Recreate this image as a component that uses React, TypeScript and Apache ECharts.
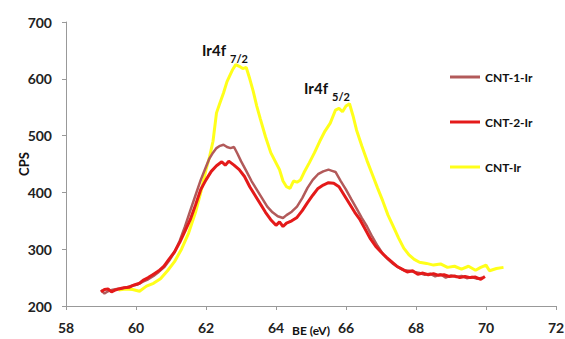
import React, { useEffect, useRef } from "react";
import * as echarts from "echarts";

const xTicks = { min: 58, max: 72, interval: 2 };
const yTicks = { min: 200, max: 700, interval: 100 };

const seriesNames = ["CNT-1-Ir", "CNT-2-Ir", "CNT-Ir"];

const cnt1X = [59.0, 59.1, 59.2, 59.3, 59.45, 59.6, 59.75, 59.9, 60.05, 60.2, 60.35, 60.5, 60.65, 60.8, 60.95, 61.1, 61.25, 61.4, 61.55, 61.7, 61.85, 62.0, 62.1, 62.2, 62.3, 62.4, 62.5, 62.6, 62.7, 62.8, 62.9, 63.0, 63.15, 63.3, 63.45, 63.6, 63.75, 63.9, 64.05, 64.2, 64.3, 64.45, 64.6, 64.75, 64.9, 65.05, 65.2, 65.35, 65.5, 65.6, 65.7, 65.85, 66.0, 66.15, 66.3, 66.45, 66.6, 66.75, 66.9, 67.05, 67.2, 67.35, 67.5, 67.65, 67.8, 67.95, 68.1, 68.25, 68.4, 68.55, 68.7, 68.85, 69.0, 69.15, 69.3, 69.45, 69.6, 69.75, 69.9];
const cnt1Y = [228, 222, 226, 228, 230, 231, 233, 236, 238, 243, 247, 253, 260, 268, 280, 295, 315, 340, 368, 395, 422, 445, 460, 470, 478, 482, 484, 480, 478, 480, 468, 455, 438, 420, 405, 390, 375, 365, 358, 355, 360, 366, 375, 390, 408, 422, 432, 437, 440, 438, 436, 420, 405, 388, 372, 355, 340, 322, 306, 292, 282, 274, 268, 263, 262, 260, 258, 255, 257, 252, 256, 250, 254, 251, 253, 249, 251, 248, 250];

const cnt2X = [59.0, 59.1, 59.2, 59.3, 59.4, 59.5, 59.65, 59.8, 59.95, 60.1, 60.2, 60.35, 60.5, 60.65, 60.8, 60.95, 61.1, 61.25, 61.4, 61.55, 61.7, 61.85, 62.0, 62.15, 62.3, 62.45, 62.55, 62.65, 62.8, 62.95, 63.1, 63.25, 63.4, 63.55, 63.7, 63.85, 64.0, 64.1, 64.2, 64.3, 64.45, 64.6, 64.75, 64.9, 65.05, 65.2, 65.35, 65.5, 65.65, 65.8, 65.95, 66.1, 66.25, 66.4, 66.55, 66.7, 66.85, 67.0, 67.15, 67.3, 67.45, 67.6, 67.75, 67.9, 68.05, 68.2, 68.35, 68.5, 68.65, 68.8, 68.95, 69.1, 69.25, 69.4, 69.55, 69.7, 69.85, 69.97];
const cnt2Y = [225, 229, 230, 225, 228, 230, 232, 233, 237, 240, 245, 250, 256, 262, 270, 283, 295, 312, 332, 352, 378, 405, 422, 437, 447, 454, 448, 455, 448, 440, 428, 410, 395, 380, 365, 352, 342, 348, 340, 346, 350, 356, 368, 382, 395, 407, 413, 417, 416, 410, 395, 380, 365, 352, 335, 318, 305, 295, 286, 278, 270, 265, 260, 262, 256, 258, 255, 257, 254, 255, 252, 253, 250, 252, 250, 251, 247, 252];

const cntX = [59.5, 59.7, 59.9, 60.1, 60.3, 60.5, 60.7, 60.9, 61.1, 61.3, 61.5, 61.7, 61.85, 62.0, 62.1, 62.2, 62.3, 62.4, 62.5, 62.6, 62.75, 62.85, 62.95, 63.05, 63.15, 63.25, 63.35, 63.45, 63.55, 63.7, 63.85, 64.0, 64.1, 64.2, 64.3, 64.4, 64.5, 64.6, 64.7, 64.8, 64.95, 65.1, 65.25, 65.4, 65.55, 65.7, 65.8, 65.9, 66.0, 66.1, 66.2, 66.3, 66.45, 66.6, 66.75, 66.9, 67.05, 67.2, 67.35, 67.5, 67.65, 67.8, 67.95, 68.1, 68.3, 68.5, 68.7, 68.9, 69.1, 69.3, 69.5, 69.7, 69.85, 70.0, 70.1, 70.3, 70.5];
const cntY = [228, 230, 229, 226, 235, 240, 248, 262, 278, 300, 328, 365, 400, 440, 462, 490, 540, 558, 575, 595, 615, 625, 622, 618, 620, 600, 578, 552, 530, 498, 470, 452, 440, 420, 410, 407, 420, 418, 422, 435, 452, 470, 490, 508, 522, 545, 548, 542, 552, 556, 535, 510, 482, 456, 432, 408, 385, 360, 340, 320, 302, 290, 282, 277, 275, 272, 274, 268, 270, 265, 270, 263, 268, 272, 262, 266, 268];

const colors = ["#B25A5A", "#E41A1A", "#FFFF1A"];

const pair = (xs: number[], ys: number[]) => xs.map((x, i) => [x, ys[i]]);

const FONT = "Lato";

export default function App() {
  const ref = useRef<HTMLDivElement>(null);
  useEffect(() => {
    if (!ref.current) return;
    const chart = echarts.init(ref.current, undefined, { renderer: "svg" });
    const mk = (name: string, xs: number[], ys: number[], color: string, w: number) => ({
      name,
      type: "line",
      data: pair(xs, ys),
      symbol: "none",
      smooth: false,
      lineStyle: { color, width: w },
      itemStyle: { color },
    });
    chart.setOption({
      animation: false,
      backgroundColor: "#ffffff",
      grid: { left: 66, right: 9, top: 22, bottom: 33, containLabel: false, outerBoundsMode: "none" },
      legend: {
        orient: "vertical",
        left: 445,
        top: 66,
        icon: "rect",
        itemWidth: 30,
        itemHeight: 3,
        itemGap: 33,
        textStyle: { fontFamily: FONT, fontWeight: "bold", fontSize: 12, color: "#111" },
        data: seriesNames,
      },
      xAxis: {
        type: "value",
        min: xTicks.min,
        max: xTicks.max,
        interval: xTicks.interval,
        name: "BE (eV)",
        nameLocation: "middle",
        nameGap: 18,
        nameMoveOverlap: false,
        nameTextStyle: { fontFamily: FONT, fontWeight: "bold", fontSize: 12, color: "#111" },
        axisLine: { lineStyle: { color: "#999", width: 1 } },
        axisTick: { lineStyle: { color: "#999" }, length: 4 },
        splitLine: { show: false },
        axisLabel: { fontFamily: FONT, fontWeight: "bold", fontSize: 14, color: "#222", margin: 14 },
      },
      yAxis: {
        type: "value",
        min: yTicks.min,
        max: yTicks.max,
        interval: yTicks.interval,
        name: "CPS",
        nameLocation: "middle",
        nameGap: 36,
        nameMoveOverlap: false,
        nameTextStyle: { fontFamily: FONT, fontWeight: "bold", fontSize: 13, color: "#111" },
        axisLine: { show: true, lineStyle: { color: "#999", width: 1 } },
        axisTick: { show: true, lineStyle: { color: "#999" }, length: 4 },
        splitLine: { show: false },
        axisLabel: { fontFamily: FONT, fontWeight: "bold", fontSize: 14, color: "#222", margin: 14 },
      },
      graphic: [
        { type: "text", left: 202, top: 42, style: { text: "Ir4f", fontFamily: FONT, fontWeight: "bold", fontSize: 15, fill: "#111" } },
        { type: "text", left: 230, top: 53, style: { text: "7/2", fontFamily: FONT, fontWeight: "bold", fontSize: 11, fill: "#111" } },
        { type: "text", left: 304, top: 80, style: { text: "Ir4f", fontFamily: FONT, fontWeight: "bold", fontSize: 15, fill: "#111" } },
        { type: "text", left: 332, top: 91, style: { text: "5/2", fontFamily: FONT, fontWeight: "bold", fontSize: 11, fill: "#111" } },
      ],
      series: [
        mk(seriesNames[2], cntX, cntY, colors[2], 3),
        mk(seriesNames[0], cnt1X, cnt1Y, colors[0], 2.5),
        mk(seriesNames[1], cnt2X, cnt2Y, colors[1], 3),
      ],
    });
    return () => chart.dispose();
  }, []);
  return (
    <div
      ref={ref}
      style={{ position: "absolute", left: 0, top: 0, width: 565, height: 339 }}
    />
  );
}
